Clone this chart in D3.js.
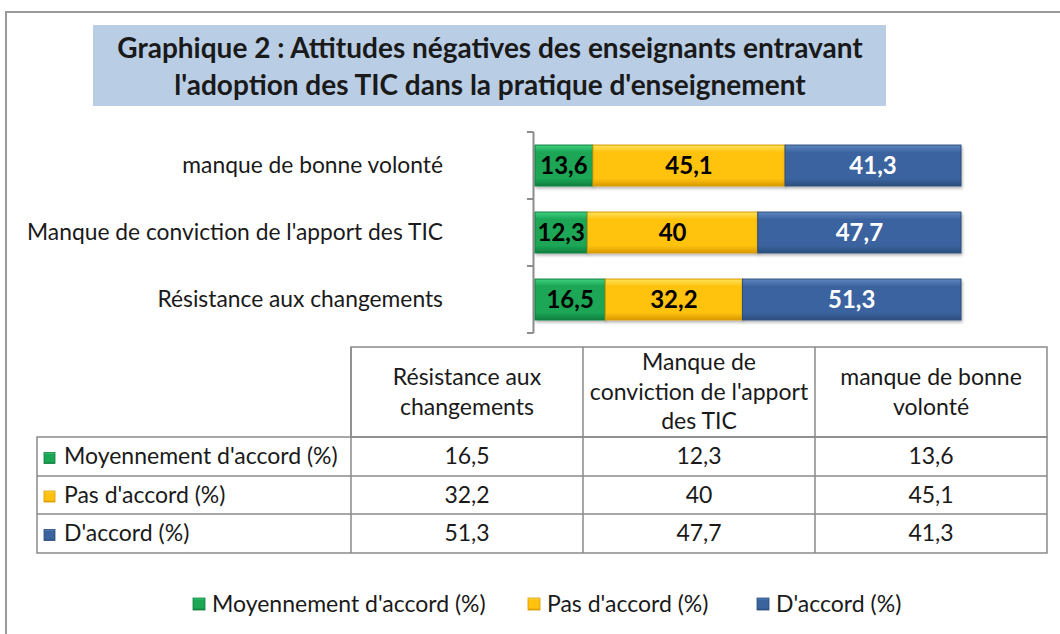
<!DOCTYPE html>
<html>
<head>
<meta charset="utf-8">
<script src="https://cdn.jsdelivr.net/npm/d3@7"></script>
<style>
  body { margin: 0; background: #fff; }
  text { font-family: Lato, "Open Sans", sans-serif; }
</style>
</head>
<body>
<div id="chart"></div>
<script>
// data
var categories = ["Résistance aux changements", "Manque de conviction de l'apport des TIC", "manque de bonne volonté"]
var headerLines = [["Résistance aux", "changements"], ["Manque de", "conviction de l'apport", "des TIC"], ["manque de bonne", "volonté"]]
var seriesNames = ["Moyennement d'accord (%)", "Pas d'accord (%)", "D'accord (%)"]
var moyennement = [16.5, 12.3, 13.6]
var pasAccord = [32.2, 40, 45.1]
var accord = [51.3, 47.7, 41.3]
var seriesValues = [moyennement, pasAccord, accord]

var colors = [
  {top: "#3fd07f", mid: "#1aa655", bot: "#0f7f3e", text: "#000"},
  {top: "#ffe45c", mid: "#ffc20e", bot: "#d99a00", text: "#000"},
  {top: "#5f86bf", mid: "#3b649f", bot: "#2b4d7e", text: "#fff"}
]
var fmt = function(v) { return String(v).replace(".", ",") }

var W = 1060, H = 634
var svg = d3.select("#chart").append("svg")
    .attr("width", W).attr("height", H)

var defs = svg.append("defs")
colors.forEach(function(c, i) {
  var g = defs.append("linearGradient").attr("id", "grad" + i)
      .attr("x1", 0).attr("y1", 0).attr("x2", 0).attr("y2", 1)
  g.append("stop").attr("offset", "0%").attr("stop-color", c.top)
  g.append("stop").attr("offset", "18%").attr("stop-color", c.mid)
  g.append("stop").attr("offset", "82%").attr("stop-color", c.mid)
  g.append("stop").attr("offset", "100%").attr("stop-color", c.bot)
})
var f = defs.append("filter").attr("id", "shadow").attr("x", "-5%").attr("y", "-20%").attr("width", "110%").attr("height", "150%")
f.append("feDropShadow").attr("dx", 1).attr("dy", 2).attr("stdDeviation", 1.5).attr("flood-color", "#000").attr("flood-opacity", 0.3)

// outer frame
svg.append("path")
    .attr("d", "M6,640 L6,12 L1070,12")
    .attr("fill", "none").attr("stroke", "#9a9a9a").attr("stroke-width", 2)

// title
svg.append("rect").attr("x", 93).attr("y", 25).attr("width", 793).attr("height", 81).attr("fill", "#b9cde5")
var title = svg.append("text").attr("text-anchor", "middle")
    .attr("font-weight", "bold").attr("font-size", 28).attr("fill", "#1a1a1a")
title.append("tspan").attr("x", 490).attr("y", 50.5).attr("dominant-baseline", "middle")
    .text("Graphique 2 : Attitudes négatives des enseignants entravant")
title.append("tspan").attr("x", 490).attr("y", 87.5).attr("dominant-baseline", "middle")
    .text("l'adoption des TIC dans la pratique d'enseignement")

// scales
var x = d3.scaleLinear().domain([0, 100]).range([535, 961])
var y = d3.scaleBand().domain(categories.slice().reverse()).range([132, 333])
    .paddingInner(0.39).paddingOuter(0.195)

// axis
var axisG = svg.append("g")
var step = y.step()
axisG.append("line").attr("x1", 533.5).attr("x2", 533.5).attr("y1", 132).attr("y2", 333)
    .attr("stroke", "#8c8c8c").attr("stroke-width", 2)
d3.range(categories.length + 1).forEach(function(i) {
  axisG.append("line").attr("x1", 527).attr("x2", 533.5)
      .attr("y1", 132 + i * step).attr("y2", 132 + i * step)
      .attr("stroke", "#8c8c8c").attr("stroke-width", 2)
})
axisG.selectAll(".cat").data(categories).enter().append("text")
    .attr("x", 443).attr("y", function(d) { return y(d) + y.bandwidth() / 2 + 2 })
    .attr("text-anchor", "end").attr("dominant-baseline", "middle")
    .attr("font-size", 22.8).attr("fill", "#1a1a1a")
    .text(function(d) { return d })

// stacked bars
var rows = categories.map(function(c, i) {
  var r = {cat: c}
  seriesNames.forEach(function(s, j) { r[s] = seriesValues[j][i] })
  return r
})
var stack = d3.stack().keys(seriesNames)(rows)

var layers = svg.selectAll(".layer").data(stack).enter().append("g")
    .attr("filter", "url(#shadow)")
layers.selectAll("rect").data(function(d, j) { return d.map(function(p) { return {p: p, j: j} }) })
  .enter().append("rect")
    .attr("x", function(d) { return x(d.p[0]) })
    .attr("y", function(d) { return y(d.p.data.cat) })
    .attr("width", function(d) { return x(d.p[1]) - x(d.p[0]) })
    .attr("height", y.bandwidth())
    .attr("fill", function(d) { return "url(#grad" + d.j + ")" })
    .attr("stroke", function(d) { return colors[d.j].bot })
    .attr("stroke-width", 1)

var labels = svg.selectAll(".lbl").data(stack).enter().append("g")
labels.selectAll("text").data(function(d, j) { return d.map(function(p) { return {p: p, j: j} }) })
  .enter().append("text")
    .attr("x", function(d) { return (x(d.p[0]) + x(d.p[1])) / 2 })
    .attr("y", function(d) { return y(d.p.data.cat) + y.bandwidth() / 2 + 2 })
    .attr("text-anchor", "middle").attr("dominant-baseline", "middle")
    .attr("font-size", 24).attr("font-weight", "bold")
    .attr("fill", function(d) { return colors[d.j].text })
    .text(function(d) { return fmt(d.p.data[seriesNames[d.j]]) })

// data table
var tLeft = 37, colX = [351, 583, 815, 1047]
var rowY = [347, 437, 476, 514, 553]
var tbl = svg.append("g").attr("stroke", "#8a8a8a").attr("stroke-width", 1.5)
tbl.append("rect").attr("x", colX[0]).attr("y", rowY[0]).attr("width", colX[3] - colX[0]).attr("height", rowY[1] - rowY[0]).attr("fill", "none")
tbl.append("rect").attr("x", tLeft).attr("y", rowY[1]).attr("width", colX[3] - tLeft).attr("height", rowY[4] - rowY[1]).attr("fill", "none")
colX.slice(0, 3).forEach(function(cx) {
  tbl.append("line").attr("x1", cx).attr("x2", cx).attr("y1", rowY[0]).attr("y2", rowY[4])
})
;[rowY[2], rowY[3]].forEach(function(ry) {
  tbl.append("line").attr("x1", tLeft).attr("x2", colX[3]).attr("y1", ry).attr("y2", ry)
})

// header text
headerLines.forEach(function(lines, i) {
  var cx = (colX[i] + colX[i + 1]) / 2
  var mid = (rowY[0] + rowY[1]) / 2 + 2
  var lh = 29.5
  var t = svg.append("text").attr("text-anchor", "middle").attr("font-size", 23).attr("fill", "#1a1a1a")
  lines.forEach(function(l, k) {
    t.append("tspan").attr("x", cx)
        .attr("y", mid + (k - (lines.length - 1) / 2) * lh)
        .attr("dominant-baseline", "middle").text(l)
  })
})

// row labels + values
seriesNames.forEach(function(s, j) {
  var cy = (rowY[j + 1] + rowY[j + 2]) / 2 + 2
  svg.append("rect").attr("x", 44).attr("y", cy - 6).attr("width", 11).attr("height", 11)
      .attr("fill", "url(#grad" + j + ")").attr("stroke", colors[j].bot).attr("stroke-width", 0.8)
  svg.append("text").attr("x", 64).attr("y", cy).attr("dominant-baseline", "middle")
      .attr("font-size", 23).attr("fill", "#1a1a1a").text(s)
  seriesValues[j].forEach(function(v, i) {
    svg.append("text").attr("x", (colX[i] + colX[i + 1]) / 2).attr("y", cy)
        .attr("text-anchor", "middle").attr("dominant-baseline", "middle")
        .attr("font-size", 23).attr("fill", "#1a1a1a").text(fmt(v))
  })
})

// legend
var legendX = [193, 528, 757]
var legend = svg.append("g")
seriesNames.forEach(function(s, j) {
  legend.append("rect").attr("x", legendX[j]).attr("y", 598).attr("width", 12).attr("height", 12)
      .attr("fill", "url(#grad" + j + ")").attr("stroke", colors[j].bot).attr("stroke-width", 0.8)
  legend.append("text").attr("x", legendX[j] + 19).attr("y", 606).attr("dominant-baseline", "middle")
      .attr("font-size", 23).attr("fill", "#1a1a1a").text(s)
})
</script>
</body>
</html>
